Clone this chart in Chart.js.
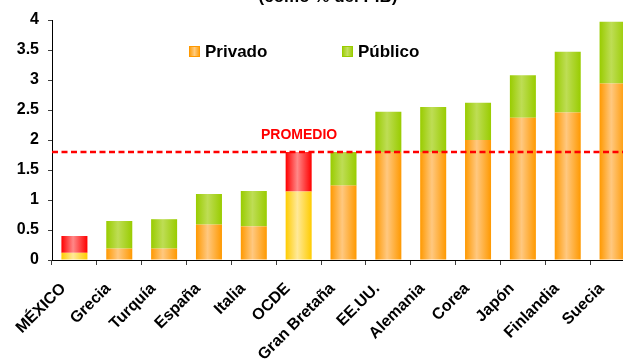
<!DOCTYPE html>
<html>
<head>
<meta charset="utf-8">
<script src="https://cdn.jsdelivr.net/npm/chart.js@4.4.1/dist/chart.umd.min.js"></script>
<style>
  html, body { margin: 0; padding: 0; background: #fff; overflow: hidden; width: 623px; height: 360px; }
  canvas { display: block; }
</style>
</head>
<body>
<canvas id="gastoChart" width="640" height="360"></canvas>
<script>
// Data
const paises = ['MÉXICO', 'Grecia', 'Turquía', 'España', 'Italia', 'OCDE', 'Gran Bretaña',
  'EE.UU.', 'Alemania', 'Corea', 'Japón', 'Finlandia', 'Suecia'];
const privado = [0.12, 0.19, 0.19, 0.59, 0.56, 1.14, 1.24, 1.80, 1.80, 2.00, 2.37, 2.46, 2.94];
const publico = [0.28, 0.46, 0.49, 0.51, 0.59, 0.66, 0.56, 0.67, 0.75, 0.62, 0.71, 1.01, 1.03];
const destacados = [0, 5]; // México and OCDE drawn in other colours
const promedio = 1.8;
const yTicks = [0, 0.5, 1, 1.5, 2, 2.5, 3, 3.5, 4];

const FONT = 'Arial, "Liberation Sans", sans-serif';
const BAR_PCT = 0.58;

// horizontal gradient for each bar (darker edges, light middle)
function barFill(edge, mid, edgeHi, midHi) {
  return function (ctx) {
    const chart = ctx.chart;
    const xs = chart.scales.x;
    const hi = destacados.includes(ctx.dataIndex);
    const e = hi ? edgeHi : edge, m = hi ? midHi : mid;
    if (!xs || ctx.dataIndex === undefined) return e;
    const cx = xs.getPixelForValue(ctx.dataIndex);
    const w = xs.width / paises.length * BAR_PCT;
    if (!isFinite(cx) || !isFinite(w) || w <= 0) return e;
    const g = chart.ctx.createLinearGradient(cx - w / 2, 0, cx + w / 2, 0);
    g.addColorStop(0, e);
    g.addColorStop(0.45, m);
    g.addColorStop(1, e);
    return g;
  };
}

const extras = {
  id: 'extras',
  afterDatasetsDraw(chart) {
    const c = chart.ctx;
    const area = chart.chartArea;
    const xs = chart.scales.x;
    const y = chart.scales.y.getPixelForValue(promedio);
    c.save();
    // average line
    c.strokeStyle = '#FF0000';
    c.lineWidth = 2.5;
    c.setLineDash([6, 3.5]);
    c.beginPath();
    c.moveTo(area.left, y);
    c.lineTo(area.right, y);
    c.stroke();
    c.setLineDash([]);
    c.fillStyle = '#FF0000';
    c.font = 'bold 14px ' + FONT;
    c.textBaseline = 'alphabetic';
    c.textAlign = 'left';
    c.fillText('PROMEDIO', 261, 139);

    // title, cut off at the top of the picture
    c.fillStyle = '#000';
    c.font = 'bold 17px ' + FONT;
    c.textAlign = 'center';
    c.fillText('(como % del PIB)', 328, 2);

    // category labels, rotated 45 degrees
    c.font = 'bold 16px ' + FONT;
    c.textAlign = 'right';
    c.textBaseline = 'middle';
    paises.forEach((p, i) => {
      const x = xs.getPixelForValue(i);
      c.save();
      c.translate(x - 11, area.bottom + 26);
      c.rotate(-Math.PI / 4);
      c.fillText(p, 0, 0);
      c.restore();
    });

    // legend
    const items = [
      { label: 'Privado', edge: '#FF9900', mid: '#FFCC80', x: 189 },
      { label: 'Público', edge: '#99CC00', mid: '#C4E060', x: 342 }
    ];
    c.font = 'bold 17px ' + FONT;
    c.textAlign = 'left';
    c.textBaseline = 'middle';
    items.forEach(it => {
      const g = c.createLinearGradient(it.x, 0, it.x + 11, 0);
      g.addColorStop(0, it.edge);
      g.addColorStop(0.5, it.mid);
      g.addColorStop(1, it.edge);
      c.fillStyle = g;
      c.fillRect(it.x, 46, 11, 11);
      c.strokeStyle = it.edge;
      c.lineWidth = 1;
      c.strokeRect(it.x + 0.5, 46.5, 10, 10);
      c.fillStyle = '#000';
      c.fillText(it.label, it.x + 16, 52);
    });
    c.restore();
  }
};

const ctx = document.getElementById('gastoChart').getContext('2d');
new Chart(ctx, {
  type: 'bar',
  data: {
    labels: paises,
    datasets: [{
      label: 'Privado',
      data: privado,
      backgroundColor: barFill('#FF9900', '#FFC880', '#FFCC00', '#FFE999'),
      borderWidth: 0,
      categoryPercentage: 1,
      barPercentage: BAR_PCT
    }, {
      label: 'Público',
      data: publico,
      backgroundColor: barFill('#99CC00', '#BEDD55', '#FF0000', '#FF8888'),
      borderWidth: 0,
      categoryPercentage: 1,
      barPercentage: BAR_PCT
    }]
  },
  options: {
    responsive: false,
    animation: false,
    devicePixelRatio: 1,
    layout: { padding: { top: 20, right: 5, left: 0, bottom: 0 } },
    plugins: {
      legend: { display: false },
      title: { display: false },
      tooltip: { enabled: false }
    },
    scales: {
      x: {
        stacked: true,
        afterFit: s => { s.height = 100; },
        grid: { drawOnChartArea: false, drawTicks: true, tickLength: 5, color: '#404040', offset: true },
        border: { color: '#000', width: 1 },
        ticks: { display: false, autoSkip: false }
      },
      y: {
        stacked: true,
        min: 0,
        max: 4,
        afterFit: s => { s.width = 52; },
        afterBuildTicks: s => { s.ticks = yTicks.map(v => ({ value: v })); },
        grid: { drawOnChartArea: false, drawTicks: true, tickLength: 4, color: '#404040' },
        border: { color: '#000', width: 1 },
        ticks: {
          color: '#000',
          font: { family: FONT, size: 16, weight: 'bold' },
          padding: 9,
          callback: v => String(v)
        }
      }
    }
  },
  plugins: [extras]
});
</script>
</body>
</html>
